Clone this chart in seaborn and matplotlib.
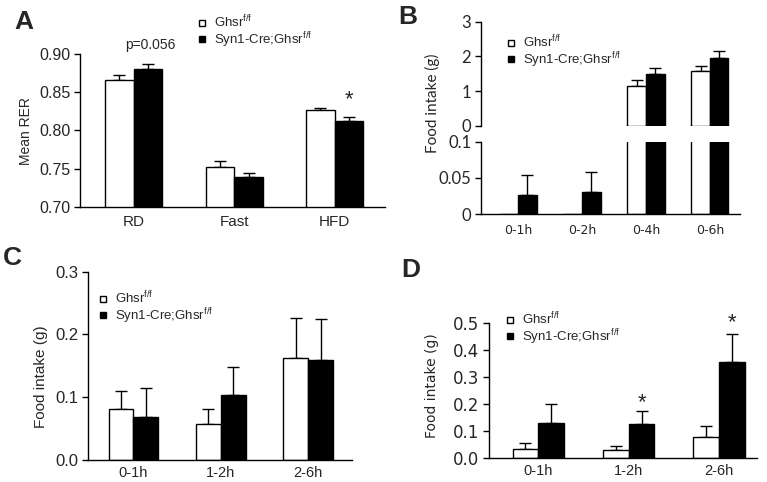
import numpy as np
import pandas as pd
import seaborn as sns
import matplotlib
matplotlib.use("Agg")
import matplotlib.pyplot as plt
from matplotlib.lines import Line2D

# ---- data ----
groups = ["Ghsr", "Syn1-Cre;Ghsr"]

rer_cats = ["RD", "Fast", "HFD"]
rer_ghsr = [0.866, 0.752, 0.827]
rer_ghsr_err = [0.0065, 0.0085, 0.003]
rer_syn = [0.881, 0.739, 0.812]
rer_syn_err = [0.0055, 0.005, 0.006]

cum_cats = ["0-1h", "0-2h", "0-4h", "0-6h"]
cum_ghsr = [0.0, 0.0, 1.15, 1.59]
cum_ghsr_err = [0.0, 0.0, 0.16, 0.15]
cum_syn = [0.026, 0.031, 1.51, 1.97]
cum_syn_err = [0.028, 0.027, 0.17, 0.18]

int_cats = ["0-1h", "1-2h", "2-6h"]
c_ghsr = [0.082, 0.057, 0.162]
c_ghsr_err = [0.028, 0.024, 0.065]
c_syn = [0.069, 0.104, 0.160]
c_syn_err = [0.045, 0.044, 0.065]

d_ghsr = [0.033, 0.030, 0.079]
d_ghsr_err = [0.022, 0.017, 0.041]
d_syn = [0.129, 0.125, 0.356]
d_syn_err = [0.071, 0.050, 0.101]

sns.set_style("ticks")
plt.rcParams["font.family"] = ["Liberation Sans", "DejaVu Sans"]
plt.rcParams["mathtext.default"] = "regular"

W, H = 767, 482
fig = plt.figure(figsize=(W / 100, H / 100), dpi=100)


def px_axes(left, right, top, bottom):
    return fig.add_axes([left / W, 1 - bottom / H, (right - left) / W, (bottom - top) / H])


def bars(ax, cats, a, a_err, b, b_err, width=0.57, mask_below=None):
    a = np.array(a, dtype=float)
    b = np.array(b, dtype=float)
    if mask_below is not None:
        a = np.where(a >= mask_below, a, np.nan)
        b = np.where(b >= mask_below, b, np.nan)
    df = pd.DataFrame({
        "cat": cats * 2,
        "val": np.concatenate([a, b]),
        "grp": [groups[0]] * len(cats) + [groups[1]] * len(cats),
    })
    sns.barplot(data=df, x="cat", y="val", hue="grp", order=cats, hue_order=groups,
                palette=["white", "black"], edgecolor="black", linewidth=1,
                width=width, errorbar=None, legend=False, ax=ax)
    x = np.arange(len(cats))
    for off, v, e in [(-width / 4, a, a_err), (width / 4, b, b_err)]:
        e = np.array(e, dtype=float)
        ok = ~np.isnan(v) & (e > 0)
        ax.errorbar(x[ok] + off, v[ok], yerr=[np.zeros(ok.sum()), e[ok]], fmt="none",
                    ecolor="black", elinewidth=1, capsize=4.5, capthick=1, zorder=0)
    ax.set_xlabel("")
    ax.set_ylabel("")
    sns.despine(ax=ax)
    for s in ["left", "bottom"]:
        ax.spines[s].set_linewidth(1)
        ax.spines[s].set_color("black")
    ax.tick_params(axis="y", length=4, width=1, color="black", pad=3)
    ax.tick_params(axis="x", length=0, pad=5)


def legend(ax, x, y, fs=9.5, spacing=-0.05, family=None):
    hs = [Line2D([], [], marker="s", ls="", mfc=c, mec="black", mew=1, ms=5)
          for c in ["white", "black"]]
    labels = ["Ghsr$^{f/f}$", "Syn1-Cre;Ghsr$^{f/f}$"]
    leg = ax.legend(hs, labels, loc="upper left", bbox_to_anchor=(x / W, 1 - y / H),
                    bbox_transform=fig.transFigure, frameon=False, fontsize=fs,
                    handlelength=0.6, handletextpad=0.6, labelspacing=spacing,
                    borderpad=0, borderaxespad=0)
    if family:
        for t in leg.get_texts():
            t.set_family(family)


# ---- A ----
axA = px_axes(80, 385, 54, 207)
bars(axA, rer_cats, rer_ghsr, rer_ghsr_err, rer_syn, rer_syn_err)
axA.set_ylim(0.70, 0.90)
axA.set_yticks([0.70, 0.75, 0.80, 0.85, 0.90])
axA.set_yticklabels(["%.2f" % v for v in [0.70, 0.75, 0.80, 0.85, 0.90]])
axA.set_xlim(-0.535, 2.5)
axA.tick_params(axis="y", labelsize=11.5)
axA.tick_params(axis="x", labelsize=11, pad=6)
axA.text(0.165, 0.9118, "p=0.056", ha="center", va="center", fontsize=10)
axA.text(2.1425, 0.8333, "*", ha="center", va="baseline", fontsize=16)
legend(axA, 198, 14)
fig.text(26.5 / W, 1 - 131 / H, "Mean RER", rotation=90, ha="center", va="center", fontsize=10)

# ---- B (broken axis) ----
axBt = px_axes(481, 740, 21.7, 126)
bars(axBt, cum_cats, cum_ghsr, cum_ghsr_err, cum_syn, cum_syn_err, width=0.58, mask_below=0.1)
axBt.set_ylim(0, 3)
axBt.set_yticks([0, 1, 2, 3])
axBt.set_xlim(-0.58, 3.47)
axBt.spines["bottom"].set_visible(False)
axBt.set_xticks([])
axBt.tick_params(axis="y", labelsize=12, labelfontfamily="Lato")

axBb = px_axes(481, 740, 141.7, 214.3)
bars(axBb, cum_cats, cum_ghsr, cum_ghsr_err, cum_syn, cum_syn_err, width=0.58)
axBb.set_ylim(0, 0.1)
axBb.set_yticks([0, 0.05, 0.1])
axBb.set_yticklabels(["0", "0.05", "0.1"])
axBb.set_xlim(-0.58, 3.47)
axBb.tick_params(axis="y", labelsize=12, labelfontfamily="Lato")
axBb.tick_params(axis="x", labelsize=9, labelfontfamily="DejaVu Sans", pad=7)
legend(axBt, 507, 34)
fig.text(432 / W, 1 - 103 / H, "Food intake (g)", rotation=90, ha="center", va="center",
         fontsize=11, family="Lato")

# ---- C ----
axC = px_axes(88, 352, 271.7, 460)
bars(axC, int_cats, c_ghsr, c_ghsr_err, c_syn, c_syn_err)
axC.set_ylim(0, 0.3)
axC.set_yticks([0, 0.1, 0.2, 0.3])
axC.set_yticklabels(["%.1f" % v for v in [0, 0.1, 0.2, 0.3]])
axC.set_xlim(-0.52, 2.5)
axC.tick_params(axis="y", labelsize=12)
axC.tick_params(axis="x", labelsize=10.5, pad=4)
legend(axC, 99, 290)
fig.text(41 / W, 1 - 377 / H, "Food intake (g)", rotation=90, ha="center", va="center", fontsize=11)

# ---- D ----
axD = px_axes(489, 757, 322.7, 458.3)
bars(axD, int_cats, d_ghsr, d_ghsr_err, d_syn, d_syn_err)
axD.set_ylim(0, 0.5)
axD.set_yticks([0, 0.1, 0.2, 0.3, 0.4, 0.5])
axD.set_yticklabels(["%.1f" % v for v in [0, 0.1, 0.2, 0.3, 0.4, 0.5]])
axD.set_xlim(-0.545, 2.42)
axD.tick_params(axis="y", labelsize=12, labelfontfamily="DejaVu Sans")
axD.tick_params(axis="x", labelsize=10.5, pad=4)
axD.text(1.1425, 0.1855, "*", ha="center", va="baseline", fontsize=16)
axD.text(2.1425, 0.4805, "*", ha="center", va="baseline", fontsize=16)
legend(axD, 506, 311)
fig.text(431.5 / W, 1 - 386 / H, "Food intake (g)", rotation=90, ha="center", va="center",
         fontsize=10, family="DejaVu Sans")

# ---- panel letters ----
for lab, x, y in [("A", 14, 10), ("B", 398, 5), ("C", 3, 246), ("D", 401, 258)]:
    fig.text(x / W, 1 - y / H, lab, ha="left", va="top", fontsize=19, fontweight="bold")

fig.savefig("out.png", dpi=100)
